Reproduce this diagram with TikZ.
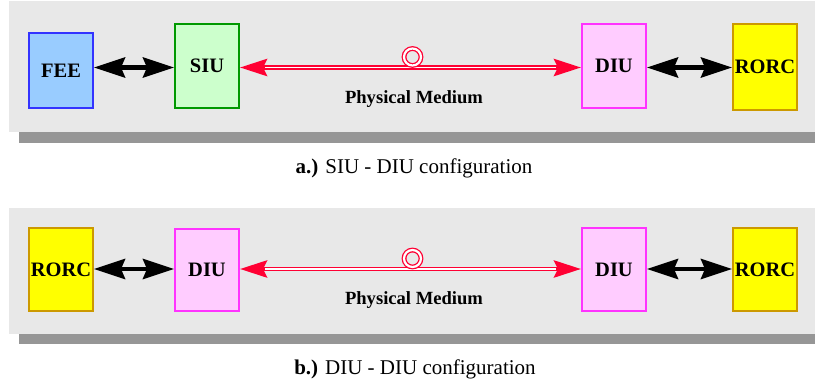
\documentclass[tikz,border=0pt]{standalone}
\usepackage{fontspec}
\setmainfont{Liberation Serif}
\usetikzlibrary{arrows.meta,calc}

\definecolor{panelgray}{RGB}{232,232,232}
\definecolor{shadowgray}{RGB}{150,150,150}
\definecolor{linkred}{RGB}{255,0,51}
\definecolor{feefill}{RGB}{153,204,255}
\definecolor{feeline}{RGB}{51,51,255}
\definecolor{siufill}{RGB}{204,255,204}
\definecolor{siuline}{RGB}{0,153,0}
\definecolor{diufill}{RGB}{255,204,255}
\definecolor{diuline}{RGB}{255,51,255}
\definecolor{rorcfill}{RGB}{255,255,0}
\definecolor{rorcline}{RGB}{204,153,0}

\tikzset{
  unit/.style={draw, line width=2pt, minimum width=64pt, inner sep=0pt,
               font=\bfseries\fontsize{20.5}{24}\selectfont},
  feebox/.style={unit, fill=feefill, draw=feeline},
  siubox/.style={unit, fill=siufill, draw=siuline},
  diubox/.style={unit, fill=diufill, draw=diuline},
  rorcbox/.style={unit, fill=rorcfill, draw=rorcline},
  busarrow/.style={line width=4.5pt, black,
    {Stealth[length=31pt, width=20pt, inset=4pt]}-{Stealth[length=31pt, width=20pt, inset=4pt]}},
  linkouter/.style={line width=4.1pt, linkred,
    {Stealth[length=27pt, width=17pt, inset=4pt]}-{Stealth[length=27pt, width=17pt, inset=4pt]}},
  linkinner/.style={line width=1.5pt, white, shorten >=25pt, shorten <=25pt},
  ring/.style={circle, draw=linkred, line width=1.3pt, double=white,
               double distance=2.2pt, minimum size=17pt, inner sep=0pt},
  medium/.style={font=\bfseries\fontsize{18.6}{22}\selectfont, anchor=base},
  caption/.style={font=\fontsize{21}{25}\selectfont, anchor=base}
}

\begin{document}
\begin{tikzpicture}[x=1pt, y=-1pt]
  \useasboundingbox (0,0) rectangle (815,383);

  % panel backgrounds with drop shadows
  \fill[shadowgray] (19,131.5) rectangle (816,143);
  \fill[panelgray] (9,1) rectangle (816,131.5);
  \fill[shadowgray] (19,334) rectangle (816,344);
  \fill[panelgray] (9,208) rectangle (816,334);

  % ---------- a.) SIU - DIU ----------
  \coordinate (axA) at (0,67.5);
  \node[feebox,  minimum height=75pt] (feeA)   at (61,70.5) {FEE};
  \node[siubox,  minimum height=84pt] (siuA)   at (207,66) {SIU};
  \node[diubox,  minimum height=84pt] (diuA)   at (614,66) {DIU};
  \node[rorcbox, minimum height=86pt] (rorcA)  at (765,67) {RORC};

  \draw[busarrow] (feeA.east |- axA) -- (siuA.west |- axA);
  \draw[busarrow] (diuA.east |- axA) -- (rorcA.west |- axA);
  \draw[linkouter] (siuA.east |- axA) -- (diuA.west |- axA);
  \draw[linkinner] (siuA.east |- axA) -- (diuA.west |- axA);
  \node[ring] (ringA) at (412.5,57) {};
  \node[medium] (medA) at (414,103) {Physical Medium};
  \node[caption] (capA) at (414,173) {\textbf{a.)} SIU - DIU configuration};

  % ---------- b.) DIU - DIU ----------
  \coordinate (axB) at (0,269);
  \node[rorcbox, minimum height=83pt] (rorcB1) at (61,269.5) {RORC};
  \node[diubox,  minimum height=82pt] (diuB1)  at (207,270) {DIU};
  \node[diubox,  minimum height=83pt] (diuB2)  at (614,269.5) {DIU};
  \node[rorcbox, minimum height=83pt] (rorcB2) at (765,269.5) {RORC};

  \draw[busarrow] (rorcB1.east |- axB) -- (diuB1.west |- axB);
  \draw[busarrow] (diuB2.east |- axB) -- (rorcB2.west |- axB);
  \draw[linkouter] (diuB1.east |- axB) -- (diuB2.west |- axB);
  \draw[linkinner] (diuB1.east |- axB) -- (diuB2.west |- axB);
  \node[ring] (ringB) at (412.5,258.5) {};
  \node[medium] (medB) at (414,304.5) {Physical Medium};
  \node[caption] (capB) at (415,374) {\textbf{b.)} DIU - DIU configuration};
\end{tikzpicture}
\end{document}
